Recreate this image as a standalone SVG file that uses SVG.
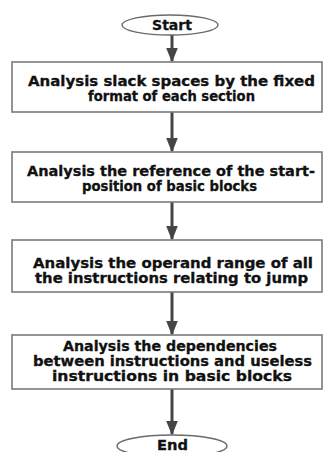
<svg xmlns="http://www.w3.org/2000/svg" width="324" height="452" viewBox="0 0 324 452">
<defs>
<style>
.box{fill:#fff;stroke:#7a7a7a;stroke-width:1.6}
.term{fill:#fff;stroke:#6a6a6a;stroke-width:1.4}
.t{font-family:"DejaVu Sans","Liberation Sans",sans-serif;font-weight:bold;font-size:13.5px;fill:#111;stroke:#111;stroke-width:0.3;text-anchor:middle}
.line{stroke:#454545;stroke-width:3;fill:none}
</style>
<marker id="ah" markerWidth="5" markerHeight="4" refX="4.5" refY="2" orient="auto" markerUnits="strokeWidth">
<path d="M0,0 L5,2 L0,4 Z" fill="#454545"/>
</marker>
</defs>
<rect width="324" height="452" fill="#fff"/>
<g id="connectors">
<line class="line" x1="172" y1="35" x2="172" y2="61" marker-end="url(#ah)"/>
<line class="line" x1="172" y1="112" x2="172" y2="151" marker-end="url(#ah)"/>
<line class="line" x1="172" y1="202" x2="172" y2="239" marker-end="url(#ah)"/>
<line class="line" x1="172" y1="292" x2="172" y2="334" marker-end="url(#ah)"/>
<line class="line" x1="172" y1="389" x2="172" y2="434" marker-end="url(#ah)"/>
</g>
<g id="start">
<ellipse class="term" cx="170" cy="25" rx="48" ry="10"/>
<text class="t" x="172" y="29.5" textLength="40" lengthAdjust="spacingAndGlyphs">Start</text>
</g>
<g id="step1">
<rect class="box" x="12" y="62" width="310" height="50"/>
<text class="t" x="171.5" y="85.5" textLength="287" lengthAdjust="spacingAndGlyphs">Analysis slack spaces by the fixed</text>
<text class="t" x="171.5" y="100.5" textLength="167" lengthAdjust="spacingAndGlyphs">format of each section</text>
</g>
<g id="step2">
<rect class="box" x="12" y="152" width="310" height="50"/>
<text class="t" x="171" y="175.5" textLength="288" lengthAdjust="spacingAndGlyphs">Analysis the reference of the start-</text>
<text class="t" x="169.5" y="190.5" textLength="175" lengthAdjust="spacingAndGlyphs">position of basic blocks</text>
</g>
<g id="step3">
<rect class="box" x="12" y="240" width="310" height="52"/>
<text class="t" x="173" y="267.5" textLength="280" lengthAdjust="spacingAndGlyphs">Analysis the operand range of all</text>
<text class="t" x="171.5" y="282.5" textLength="273" lengthAdjust="spacingAndGlyphs">the instructions relating to jump</text>
</g>
<g id="step4">
<rect class="box" x="12" y="335" width="310" height="54"/>
<text class="t" x="170" y="350.5" textLength="214" lengthAdjust="spacingAndGlyphs">Analysis the dependencies</text>
<text class="t" x="172.5" y="365.5" textLength="279" lengthAdjust="spacingAndGlyphs">between instructions and useless</text>
<text class="t" x="172" y="380.5" textLength="240" lengthAdjust="spacingAndGlyphs">instructions in basic blocks</text>
</g>
<g id="end">
<ellipse class="term" cx="172" cy="446" rx="55" ry="11"/>
<text class="t" x="172.5" y="449.5" textLength="31" lengthAdjust="spacingAndGlyphs">End</text>
</g>
</svg>
